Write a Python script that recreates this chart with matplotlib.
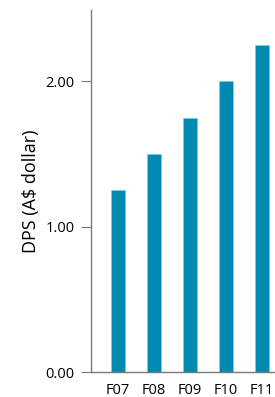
import numpy as np
import matplotlib
matplotlib.use('Agg')
import matplotlib.pyplot as plt

# Dividend per share by financial year
years = ['F07', 'F08', 'F09', 'F10', 'F11']
dps = [1.25, 1.50, 1.75, 2.00, 2.25]
yticks = [0.0, 1.0, 2.0]

BAR_COLOR = '#0089b1'
SPINE_COLOR = '#7a7a7a'

plt.rcParams['font.family'] = ['Open Sans', 'DejaVu Sans']

fig = plt.figure(figsize=(2.75, 3.97), dpi=100)
ax = fig.add_axes([91 / 275, 25 / 397, 1 - 91 / 275, 362 / 397])

x = np.arange(len(years))
ax.bar(x, dps, width=0.37, color=BAR_COLOR, edgecolor='#7fd0e6', linewidth=0.4)

ax.set_xlim(-0.75, 4.36)
ax.set_ylim(0, 2.49)
ax.set_xticks(x)
ax.set_xticklabels(years)
ax.set_yticks(yticks)
ax.set_yticklabels([f'{v:.2f}' for v in yticks])
ax.tick_params(axis='x', length=0, pad=8, labelsize=10.5)
ax.tick_params(axis='y', length=7, width=0.8, color=SPINE_COLOR, pad=5, labelsize=10.5)

for side in ('top', 'right'):
    ax.spines[side].set_visible(False)
for side in ('left', 'bottom'):
    ax.spines[side].set_color(SPINE_COLOR)
    ax.spines[side].set_linewidth(1.0)

ax.set_ylabel('DPS (A$ dollar)', fontsize=13, labelpad=4)

fig.savefig('out.png', dpi=100)
